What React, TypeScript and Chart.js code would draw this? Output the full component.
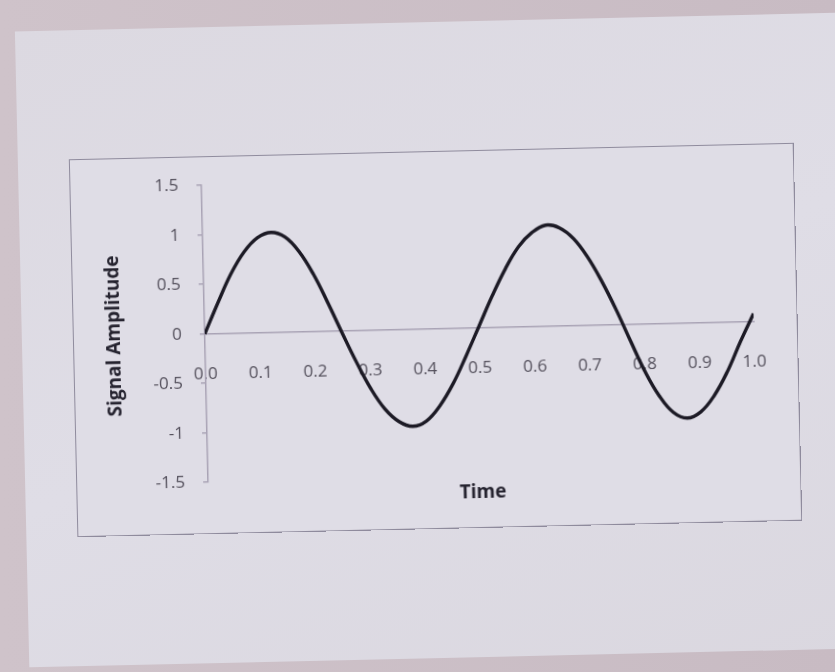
import React, { useEffect, useRef } from "react";
import { Chart, registerables } from "chart.js";

Chart.register(...registerables);

// Time (s) sampled along the curve
const timeValues = [
  0, 0.025, 0.05, 0.075, 0.1, 0.125, 0.15, 0.175, 0.2, 0.225, 0.25,
  0.275, 0.3, 0.325, 0.35, 0.375, 0.4, 0.425, 0.45, 0.475, 0.5,
  0.525, 0.55, 0.575, 0.6, 0.625, 0.65, 0.675, 0.7, 0.725, 0.75,
  0.775, 0.8, 0.825, 0.85, 0.875, 0.9, 0.925, 0.95, 0.975, 1.0,
];

// Signal amplitude
const amplitudeValues = [
  0, 0.31, 0.6, 0.82, 0.96, 1.01, 0.96, 0.81, 0.58, 0.29, -0.02,
  -0.32, -0.59, -0.8, -0.93, -0.98, -0.93, -0.78, -0.56, -0.28, 0.02,
  0.32, 0.59, 0.81, 0.95, 1.02, 0.99, 0.88, 0.69, 0.44, 0.15,
  -0.17, -0.48, -0.73, -0.9, -0.96, -0.9, -0.74, -0.5, -0.2, 0.08,
];

const xTickLabels = ["0.0", "0.1", "0.2", "0.3", "0.4", "0.5", "0.6", "0.7", "0.8", "0.9", "1.0"];
const yTickLabels = ["-1.5", "-1", "-0.5", "0", "0.5", "1", "1.5"];
const xAxisTitle = "Time";
const yAxisTitle = "Signal Amplitude";

const FONT = '"Open Sans", "Liberation Sans", "DejaVu Sans", sans-serif';
const AXIS_COLOR = "#a9a3b5";
const TICK_COLOR = "#54505c";
const TITLE_COLOR = "#25232f";

export default function App() {
  const canvasRef = useRef<HTMLCanvasElement | null>(null);

  useEffect(() => {
    if (!canvasRef.current) return;
    const chart = new Chart(canvasRef.current, {
      type: "line",
      data: {
        datasets: [
          {
            data: timeValues.map((t, i) => ({ x: t, y: amplitudeValues[i] })),
            borderColor: "#1c1a25",
            borderWidth: 3.4,
            pointRadius: 0,
            tension: 0.4,
            fill: false,
          },
        ],
      },
      options: {
        responsive: false,
        animation: false,
        events: [],
        layout: { padding: { left: 25.5, right: 35.5, top: 26, bottom: 22 } },
        plugins: {
          legend: { display: false },
          tooltip: { enabled: false },
          title: {
            display: true,
            text: xAxisTitle,
            position: "bottom",
            fullSize: false,
            color: TITLE_COLOR,
            font: { family: FONT, size: 19, weight: "bold" },
            padding: { top: 5, bottom: 0 },
          },
        },
        scales: {
          x: {
            type: "linear",
            position: { y: 0 } as any,
            min: 0,
            max: 1,
            ticks: {
              stepSize: 0.1,
              autoSkip: false,
              maxRotation: 0,
              padding: 30,
              color: TICK_COLOR,
              font: { family: FONT, size: 17 },
              callback: (_v: any, i: number) => xTickLabels[i],
            },
            grid: { display: false, drawTicks: false },
            border: { display: true, color: AXIS_COLOR, width: 1.5 },
          },
          y: {
            type: "linear",
            min: -1.5,
            max: 1.5,
            ticks: {
              stepSize: 0.5,
              padding: 18,
              color: TICK_COLOR,
              font: { family: FONT, size: 17 },
              callback: (_v: any, i: number) => yTickLabels[i],
            },
            grid: {
              display: true,
              drawOnChartArea: false,
              drawTicks: true,
              tickLength: 5,
              color: AXIS_COLOR,
              lineWidth: 1.5,
            },
            border: { display: true, color: AXIS_COLOR, width: 1.5 },
            title: {
              display: true,
              text: yAxisTitle,
              color: TITLE_COLOR,
              font: { family: FONT, size: 19, weight: "bold" },
            },
            afterFit: (scale: any) => {
              scale.width = 105.5;
            },
          },
        },
      },
    });
    return () => chart.destroy();
  }, []);

  return (
    <div
      style={{
        position: "fixed",
        left: 0,
        top: 0,
        width: 835,
        height: 672,
        overflow: "hidden",
        background: "linear-gradient(90deg, #cfc3ca 0%, #c8bbc3 100%)",
      }}
    >
      <div
        style={{
          position: "absolute",
          left: 22,
          top: 22,
          width: 900,
          height: 636,
          transformOrigin: "413px 318px",
          transform: "rotate(-1.3deg)",
          background: "linear-gradient(160deg, #dcd9e1 0%, #dfdde6 50%, #dad7df 100%)",
        }}
      />
      <div
        style={{
          position: "absolute",
          left: 74,
          top: 152,
          width: 722,
          height: 375,
          transform: "rotate(-1.3deg)",
          background: "#dfdde6",
        }}
      >
        <canvas
          ref={canvasRef}
          width={722}
          height={375}
          style={{ position: "absolute", left: 0, top: 0, width: 722, height: 375 }}
        />
        <div
          style={{
            position: "absolute",
            left: -1.5,
            top: -1.5,
            right: -1.5,
            bottom: -1.5,
            border: "1.5px solid #8f8b9d",
            pointerEvents: "none",
          }}
        />
      </div>
    </div>
  );
}
